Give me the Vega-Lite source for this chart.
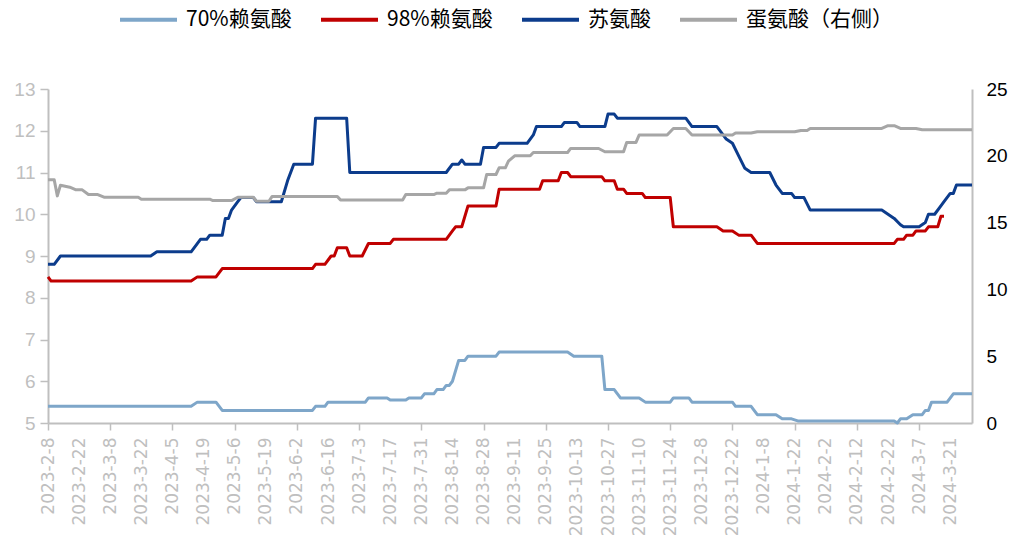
{
  "$schema": "https://vega.github.io/schema/vega-lite/v6.json",
  "width": 924,
  "height": 334,
  "autosize": {"type": "none"},
  "padding": {"left": 48, "top": 89, "right": 45, "bottom": 137},
  "background": "#ffffff",
  "config": {"view": {"stroke": null}, "font": "DejaVu Sans"},
  "datasets": {
    "left": [
      {"s":"70%赖氨酸","i":0,"v":5.4},{"s":"70%赖氨酸","i":46,"v":5.4},{"s":"70%赖氨酸","i":48,"v":5.5},{"s":"70%赖氨酸","i":54,"v":5.5},{"s":"70%赖氨酸","i":56,"v":5.3},{"s":"70%赖氨酸","i":85,"v":5.3},{"s":"70%赖氨酸","i":86,"v":5.4},{"s":"70%赖氨酸","i":89,"v":5.4},{"s":"70%赖氨酸","i":90,"v":5.5},{"s":"70%赖氨酸","i":102,"v":5.5},{"s":"70%赖氨酸","i":103,"v":5.6},{"s":"70%赖氨酸","i":109,"v":5.6},{"s":"70%赖氨酸","i":110,"v":5.55},{"s":"70%赖氨酸","i":115,"v":5.55},{"s":"70%赖氨酸","i":116,"v":5.6},{"s":"70%赖氨酸","i":120,"v":5.6},{"s":"70%赖氨酸","i":121,"v":5.7},{"s":"70%赖氨酸","i":124,"v":5.7},{"s":"70%赖氨酸","i":125,"v":5.8},{"s":"70%赖氨酸","i":127,"v":5.8},{"s":"70%赖氨酸","i":128,"v":5.9},{"s":"70%赖氨酸","i":129,"v":5.9},{"s":"70%赖氨酸","i":130,"v":6.0},{"s":"70%赖氨酸","i":132,"v":6.5},{"s":"70%赖氨酸","i":134,"v":6.5},{"s":"70%赖氨酸","i":135,"v":6.6},{"s":"70%赖氨酸","i":144,"v":6.6},{"s":"70%赖氨酸","i":145,"v":6.7},{"s":"70%赖氨酸","i":167,"v":6.7},{"s":"70%赖氨酸","i":169,"v":6.6},{"s":"70%赖氨酸","i":178,"v":6.6},{"s":"70%赖氨酸","i":179,"v":5.8},{"s":"70%赖氨酸","i":182,"v":5.8},{"s":"70%赖氨酸","i":184,"v":5.6},{"s":"70%赖氨酸","i":190,"v":5.6},{"s":"70%赖氨酸","i":192,"v":5.5},{"s":"70%赖氨酸","i":200,"v":5.5},{"s":"70%赖氨酸","i":201,"v":5.6},{"s":"70%赖氨酸","i":206,"v":5.6},{"s":"70%赖氨酸","i":207,"v":5.5},{"s":"70%赖氨酸","i":220,"v":5.5},{"s":"70%赖氨酸","i":221,"v":5.4},{"s":"70%赖氨酸","i":226,"v":5.4},{"s":"70%赖氨酸","i":228,"v":5.2},{"s":"70%赖氨酸","i":234,"v":5.2},{"s":"70%赖氨酸","i":236,"v":5.1},{"s":"70%赖氨酸","i":239,"v":5.1},{"s":"70%赖氨酸","i":241,"v":5.05},{"s":"70%赖氨酸","i":272,"v":5.05},{"s":"70%赖氨酸","i":273,"v":5.0},{"s":"70%赖氨酸","i":274,"v":5.1},{"s":"70%赖氨酸","i":276,"v":5.1},{"s":"70%赖氨酸","i":278,"v":5.2},{"s":"70%赖氨酸","i":281,"v":5.2},{"s":"70%赖氨酸","i":282,"v":5.3},{"s":"70%赖氨酸","i":283,"v":5.3},{"s":"70%赖氨酸","i":284,"v":5.5},{"s":"70%赖氨酸","i":289,"v":5.5},{"s":"70%赖氨酸","i":291,"v":5.7},{"s":"70%赖氨酸","i":297,"v":5.7},
      {"s":"98%赖氨酸","i":0,"v":8.5},{"s":"98%赖氨酸","i":1,"v":8.4},{"s":"98%赖氨酸","i":46,"v":8.4},{"s":"98%赖氨酸","i":48,"v":8.5},{"s":"98%赖氨酸","i":54,"v":8.5},{"s":"98%赖氨酸","i":56,"v":8.7},{"s":"98%赖氨酸","i":85,"v":8.7},{"s":"98%赖氨酸","i":86,"v":8.8},{"s":"98%赖氨酸","i":89,"v":8.8},{"s":"98%赖氨酸","i":91,"v":9.0},{"s":"98%赖氨酸","i":92,"v":9.0},{"s":"98%赖氨酸","i":93,"v":9.2},{"s":"98%赖氨酸","i":96,"v":9.2},{"s":"98%赖氨酸","i":97,"v":9.0},{"s":"98%赖氨酸","i":101,"v":9.0},{"s":"98%赖氨酸","i":103,"v":9.3},{"s":"98%赖氨酸","i":110,"v":9.3},{"s":"98%赖氨酸","i":111,"v":9.4},{"s":"98%赖氨酸","i":128,"v":9.4},{"s":"98%赖氨酸","i":130,"v":9.6},{"s":"98%赖氨酸","i":131,"v":9.7},{"s":"98%赖氨酸","i":133,"v":9.7},{"s":"98%赖氨酸","i":135,"v":10.2},{"s":"98%赖氨酸","i":144,"v":10.2},{"s":"98%赖氨酸","i":145,"v":10.6},{"s":"98%赖氨酸","i":158,"v":10.6},{"s":"98%赖氨酸","i":159,"v":10.8},{"s":"98%赖氨酸","i":164,"v":10.8},{"s":"98%赖氨酸","i":165,"v":11.0},{"s":"98%赖氨酸","i":167,"v":11.0},{"s":"98%赖氨酸","i":168,"v":10.9},{"s":"98%赖氨酸","i":178,"v":10.9},{"s":"98%赖氨酸","i":179,"v":10.8},{"s":"98%赖氨酸","i":182,"v":10.8},{"s":"98%赖氨酸","i":183,"v":10.6},{"s":"98%赖氨酸","i":185,"v":10.6},{"s":"98%赖氨酸","i":186,"v":10.5},{"s":"98%赖氨酸","i":191,"v":10.5},{"s":"98%赖氨酸","i":192,"v":10.4},{"s":"98%赖氨酸","i":200,"v":10.4},{"s":"98%赖氨酸","i":201,"v":9.7},{"s":"98%赖氨酸","i":215,"v":9.7},{"s":"98%赖氨酸","i":217,"v":9.6},{"s":"98%赖氨酸","i":220,"v":9.6},{"s":"98%赖氨酸","i":222,"v":9.5},{"s":"98%赖氨酸","i":226,"v":9.5},{"s":"98%赖氨酸","i":228,"v":9.3},{"s":"98%赖氨酸","i":272,"v":9.3},{"s":"98%赖氨酸","i":273,"v":9.4},{"s":"98%赖氨酸","i":275,"v":9.4},{"s":"98%赖氨酸","i":276,"v":9.5},{"s":"98%赖氨酸","i":278,"v":9.5},{"s":"98%赖氨酸","i":279,"v":9.6},{"s":"98%赖氨酸","i":282,"v":9.6},{"s":"98%赖氨酸","i":283,"v":9.7},{"s":"98%赖氨酸","i":286,"v":9.7},{"s":"98%赖氨酸","i":287,"v":9.95},{"s":"98%赖氨酸","i":288,"v":9.95},
      {"s":"苏氨酸","i":0,"v":8.8},{"s":"苏氨酸","i":2,"v":8.8},{"s":"苏氨酸","i":4,"v":9.0},{"s":"苏氨酸","i":33,"v":9.0},{"s":"苏氨酸","i":35,"v":9.1},{"s":"苏氨酸","i":46,"v":9.1},{"s":"苏氨酸","i":49,"v":9.4},{"s":"苏氨酸","i":51,"v":9.4},{"s":"苏氨酸","i":52,"v":9.5},{"s":"苏氨酸","i":56,"v":9.5},{"s":"苏氨酸","i":57,"v":9.9},{"s":"苏氨酸","i":58,"v":9.9},{"s":"苏氨酸","i":59,"v":10.1},{"s":"苏氨酸","i":61,"v":10.3},{"s":"苏氨酸","i":62,"v":10.4},{"s":"苏氨酸","i":66,"v":10.4},{"s":"苏氨酸","i":67,"v":10.3},{"s":"苏氨酸","i":75,"v":10.3},{"s":"苏氨酸","i":77,"v":10.8},{"s":"苏氨酸","i":79,"v":11.2},{"s":"苏氨酸","i":85,"v":11.2},{"s":"苏氨酸","i":86,"v":12.3},{"s":"苏氨酸","i":96,"v":12.3},{"s":"苏氨酸","i":97,"v":11.0},{"s":"苏氨酸","i":128,"v":11.0},{"s":"苏氨酸","i":130,"v":11.2},{"s":"苏氨酸","i":132,"v":11.2},{"s":"苏氨酸","i":133,"v":11.3},{"s":"苏氨酸","i":134,"v":11.2},{"s":"苏氨酸","i":139,"v":11.2},{"s":"苏氨酸","i":140,"v":11.6},{"s":"苏氨酸","i":144,"v":11.6},{"s":"苏氨酸","i":145,"v":11.7},{"s":"苏氨酸","i":154,"v":11.7},{"s":"苏氨酸","i":156,"v":11.9},{"s":"苏氨酸","i":157,"v":12.1},{"s":"苏氨酸","i":165,"v":12.1},{"s":"苏氨酸","i":166,"v":12.2},{"s":"苏氨酸","i":170,"v":12.2},{"s":"苏氨酸","i":171,"v":12.1},{"s":"苏氨酸","i":179,"v":12.1},{"s":"苏氨酸","i":180,"v":12.4},{"s":"苏氨酸","i":182,"v":12.4},{"s":"苏氨酸","i":183,"v":12.3},{"s":"苏氨酸","i":205,"v":12.3},{"s":"苏氨酸","i":207,"v":12.1},{"s":"苏氨酸","i":215,"v":12.1},{"s":"苏氨酸","i":217,"v":11.9},{"s":"苏氨酸","i":218,"v":11.8},{"s":"苏氨酸","i":220,"v":11.7},{"s":"苏氨酸","i":222,"v":11.4},{"s":"苏氨酸","i":224,"v":11.1},{"s":"苏氨酸","i":226,"v":11.0},{"s":"苏氨酸","i":232,"v":11.0},{"s":"苏氨酸","i":234,"v":10.7},{"s":"苏氨酸","i":236,"v":10.5},{"s":"苏氨酸","i":239,"v":10.5},{"s":"苏氨酸","i":240,"v":10.4},{"s":"苏氨酸","i":243,"v":10.4},{"s":"苏氨酸","i":245,"v":10.1},{"s":"苏氨酸","i":268,"v":10.1},{"s":"苏氨酸","i":270,"v":10.0},{"s":"苏氨酸","i":272,"v":9.9},{"s":"苏氨酸","i":274,"v":9.75},{"s":"苏氨酸","i":275,"v":9.7},{"s":"苏氨酸","i":280,"v":9.7},{"s":"苏氨酸","i":282,"v":9.8},{"s":"苏氨酸","i":283,"v":10.0},{"s":"苏氨酸","i":285,"v":10.0},{"s":"苏氨酸","i":287,"v":10.2},{"s":"苏氨酸","i":288,"v":10.3},{"s":"苏氨酸","i":290,"v":10.5},{"s":"苏氨酸","i":291,"v":10.5},{"s":"苏氨酸","i":292,"v":10.7},{"s":"苏氨酸","i":297,"v":10.7}
    ],
    "right": [
      {"s":"蛋氨酸（右侧）","i":0,"v":18.2},{"s":"蛋氨酸（右侧）","i":2,"v":18.2},{"s":"蛋氨酸（右侧）","i":3,"v":17.0},{"s":"蛋氨酸（右侧）","i":4,"v":17.8},{"s":"蛋氨酸（右侧）","i":7,"v":17.65},{"s":"蛋氨酸（右侧）","i":9,"v":17.45},{"s":"蛋氨酸（右侧）","i":11,"v":17.45},{"s":"蛋氨酸（右侧）","i":13,"v":17.1},{"s":"蛋氨酸（右侧）","i":16,"v":17.1},{"s":"蛋氨酸（右侧）","i":18,"v":16.9},{"s":"蛋氨酸（右侧）","i":29,"v":16.9},{"s":"蛋氨酸（右侧）","i":30,"v":16.75},{"s":"蛋氨酸（右侧）","i":52,"v":16.75},{"s":"蛋氨酸（右侧）","i":53,"v":16.65},{"s":"蛋氨酸（右侧）","i":59,"v":16.65},{"s":"蛋氨酸（右侧）","i":61,"v":16.9},{"s":"蛋氨酸（右侧）","i":66,"v":16.9},{"s":"蛋氨酸（右侧）","i":67,"v":16.6},{"s":"蛋氨酸（右侧）","i":71,"v":16.6},{"s":"蛋氨酸（右侧）","i":72,"v":16.95},{"s":"蛋氨酸（右侧）","i":93,"v":16.95},{"s":"蛋氨酸（右侧）","i":94,"v":16.7},{"s":"蛋氨酸（右侧）","i":114,"v":16.7},{"s":"蛋氨酸（右侧）","i":115,"v":17.1},{"s":"蛋氨酸（右侧）","i":124,"v":17.1},{"s":"蛋氨酸（右侧）","i":125,"v":17.2},{"s":"蛋氨酸（右侧）","i":128,"v":17.2},{"s":"蛋氨酸（右侧）","i":129,"v":17.45},{"s":"蛋氨酸（右侧）","i":134,"v":17.45},{"s":"蛋氨酸（右侧）","i":135,"v":17.6},{"s":"蛋氨酸（右侧）","i":140,"v":17.6},{"s":"蛋氨酸（右侧）","i":141,"v":18.6},{"s":"蛋氨酸（右侧）","i":144,"v":18.6},{"s":"蛋氨酸（右侧）","i":145,"v":19.1},{"s":"蛋氨酸（右侧）","i":147,"v":19.1},{"s":"蛋氨酸（右侧）","i":148,"v":19.6},{"s":"蛋氨酸（右侧）","i":150,"v":20.0},{"s":"蛋氨酸（右侧）","i":155,"v":20.0},{"s":"蛋氨酸（右侧）","i":156,"v":20.25},{"s":"蛋氨酸（右侧）","i":167,"v":20.25},{"s":"蛋氨酸（右侧）","i":168,"v":20.55},{"s":"蛋氨酸（右侧）","i":177,"v":20.55},{"s":"蛋氨酸（右侧）","i":179,"v":20.3},{"s":"蛋氨酸（右侧）","i":185,"v":20.3},{"s":"蛋氨酸（右侧）","i":186,"v":21.0},{"s":"蛋氨酸（右侧）","i":189,"v":21.0},{"s":"蛋氨酸（右侧）","i":190,"v":21.55},{"s":"蛋氨酸（右侧）","i":199,"v":21.55},{"s":"蛋氨酸（右侧）","i":201,"v":22.05},{"s":"蛋氨酸（右侧）","i":205,"v":22.05},{"s":"蛋氨酸（右侧）","i":207,"v":21.55},{"s":"蛋氨酸（右侧）","i":220,"v":21.55},{"s":"蛋氨酸（右侧）","i":221,"v":21.7},{"s":"蛋氨酸（右侧）","i":226,"v":21.7},{"s":"蛋氨酸（右侧）","i":228,"v":21.8},{"s":"蛋氨酸（右侧）","i":240,"v":21.8},{"s":"蛋氨酸（右侧）","i":242,"v":21.9},{"s":"蛋氨酸（右侧）","i":244,"v":21.9},{"s":"蛋氨酸（右侧）","i":245,"v":22.05},{"s":"蛋氨酸（右侧）","i":268,"v":22.05},{"s":"蛋氨酸（右侧）","i":270,"v":22.25},{"s":"蛋氨酸（右侧）","i":272,"v":22.25},{"s":"蛋氨酸（右侧）","i":274,"v":22.05},{"s":"蛋氨酸（右侧）","i":279,"v":22.05},{"s":"蛋氨酸（右侧）","i":281,"v":21.95},{"s":"蛋氨酸（右侧）","i":297,"v":21.95}
    ]
  },
  "encoding": {
    "x": {
      "field": "i", "type": "quantitative",
      "scale": {"domain": [0, 297], "nice": false, "zero": false},
      "axis": {
        "title": null, "grid": false,
        "values": [0,10,20,30,40,50,60,70,80,90,100,110,120,130,140,150,160,170,180,190,200,210,220,230,240,250,260,270,280,290],
        "labelExpr": "['2023-2-8','2023-2-22','2023-3-8','2023-3-22','2023-4-5','2023-4-19','2023-5-6','2023-5-19','2023-6-2','2023-6-16','2023-7-3','2023-7-17','2023-7-31','2023-8-14','2023-8-28','2023-9-11','2023-9-25','2023-10-13','2023-10-27','2023-11-10','2023-11-24','2023-12-8','2023-12-22','2024-1-8','2024-1-22','2024-2-2','2024-2-12','2024-2-22','2024-3-7','2024-3-21'][round(datum.value/10)]",
        "labelAngle": -90, "labelFont": "DejaVu Sans", "labelFontSize": 17, "labelColor": "#bfbfbf",
        "labelPadding": 7, "labelOverlap": false, "labelFlush": false, "labelBound": false, "labelSeparation": 0,
        "domainColor": "#bfbfbf", "domainWidth": 2,
        "tickColor": "#bfbfbf", "tickWidth": 1.5, "tickSize": 7,
        "tickOpacity": {"condition": {"test": "datum.value % 20 === 0", "value": 1}, "value": 0}
      }
    },
    "color": {
      "field": "s", "type": "nominal",
      "scale": {
        "domain": ["70%赖氨酸", "98%赖氨酸", "苏氨酸", "蛋氨酸（右侧）"],
        "range": ["#7ea6c9", "#c00000", "#0c3c8c", "#a6a6a6"]
      },
      "legend": {
        "title": null, "orient": "none", "legendX": 70, "legendY": -100, "direction": "horizontal",
        "symbolType": "stroke", "symbolSize": 3249, "symbolStrokeWidth": 4,
        "labelFont": "Noto Sans CJK SC", "labelFontSize": 21, "labelColor": "#000000",
        "labelOffset": 7, "columnPadding": 21, "labelLimit": 300
      }
    }
  },
  "layer": [
    {
      "data": {"name": "left"},
      "mark": {"type": "line", "strokeWidth": 3, "strokeJoin": "round"},
      "encoding": {
        "y": {
          "field": "v", "type": "quantitative",
          "scale": {"domain": [5, 13], "nice": false, "zero": false},
          "axis": {
            "title": null, "grid": false, "values": [5,6,7,8,9,10,11,12,13],
            "labelFont": "Liberation Sans", "labelFontSize": 19, "labelColor": "#bfbfbf", "labelPadding": 5,
            "domainColor": "#bfbfbf", "domainWidth": 2, "tickColor": "#bfbfbf", "tickWidth": 1.5, "tickSize": 8
          }
        }
      }
    },
    {
      "data": {"name": "right"},
      "mark": {"type": "line", "strokeWidth": 3, "strokeJoin": "round"},
      "encoding": {
        "y": {
          "field": "v", "type": "quantitative",
          "scale": {"domain": [0, 25], "nice": false, "zero": false},
          "axis": {
            "orient": "right", "title": null, "grid": false, "values": [0,5,10,15,20,25],
            "labelFont": "Liberation Sans", "labelFontSize": 19, "labelColor": "#000000", "labelPadding": 14,
            "domainColor": "#bfbfbf", "domainWidth": 2, "ticks": false
          }
        }
      }
    }
  ],
  "resolve": {"scale": {"y": "independent"}}
}
